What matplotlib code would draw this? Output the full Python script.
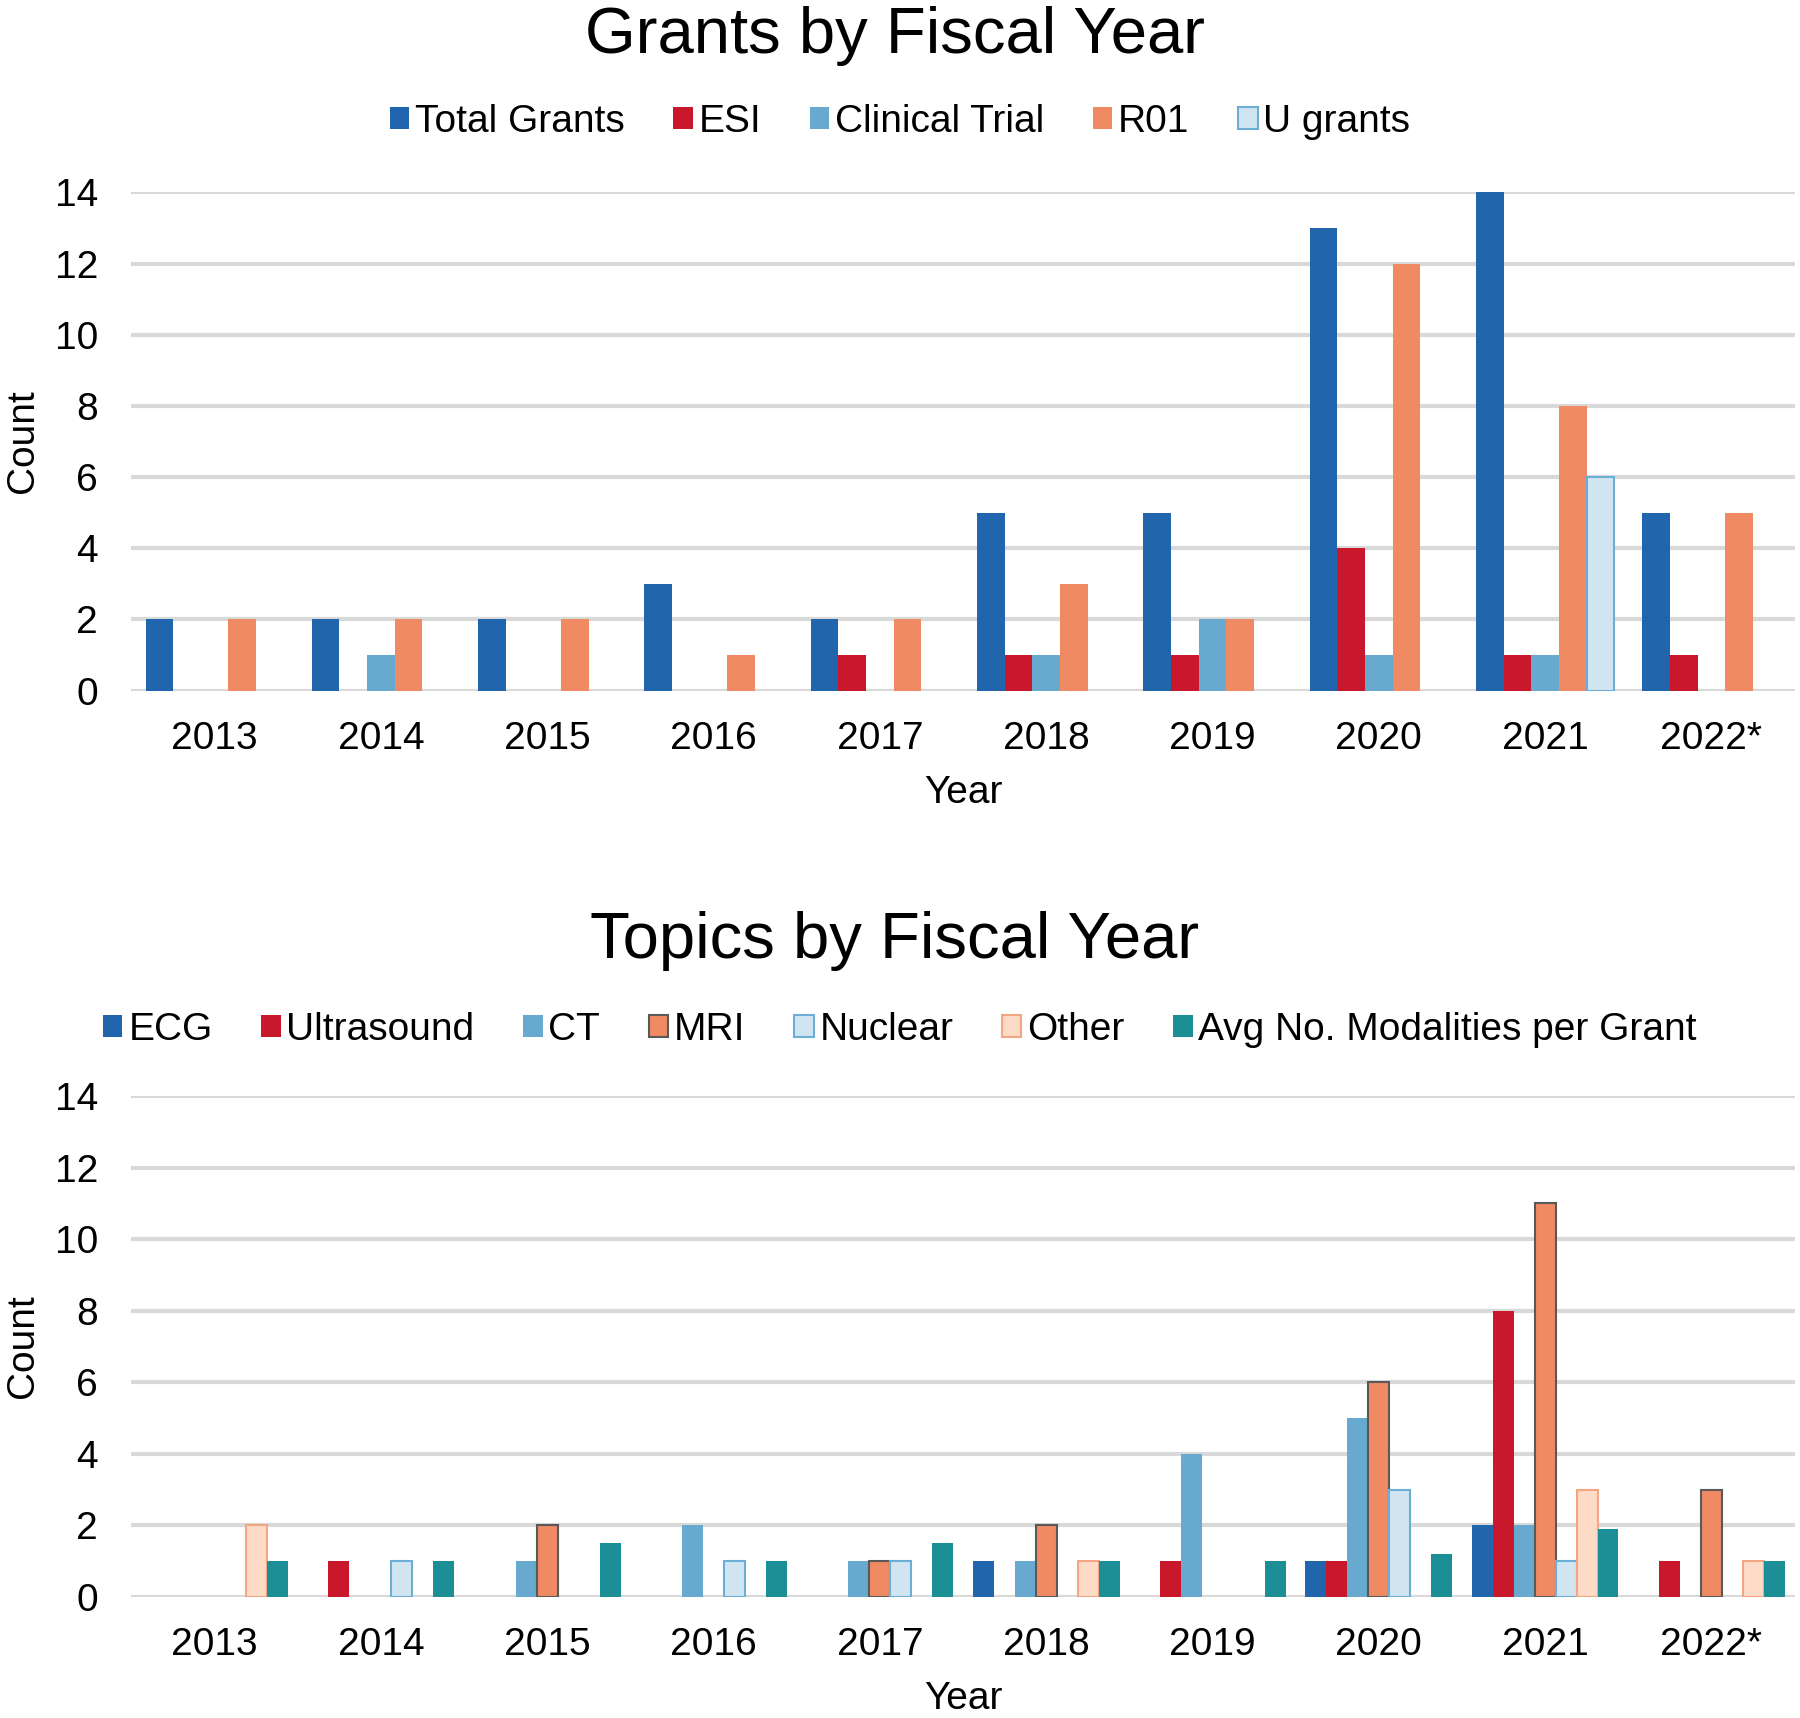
import numpy as np
import matplotlib
matplotlib.use('Agg')
import matplotlib.pyplot as plt

plt.rcParams['font.family'] = ['Liberation Sans', 'DejaVu Sans']

years = ['2013', '2014', '2015', '2016', '2017', '2018', '2019', '2020', '2021', '2022*']

# grants by fiscal year
total_grants = [2, 2, 2, 3, 2, 5, 5, 13, 14, 5]
esi = [0, 0, 0, 0, 1, 1, 1, 4, 1, 1]
clinical_trial = [0, 1, 0, 0, 0, 1, 2, 1, 1, 0]
r01 = [2, 2, 2, 1, 2, 3, 2, 12, 8, 5]
u_grants = [0, 0, 0, 0, 0, 0, 0, 0, 6, 0]

# topics by fiscal year
ecg = [0, 0, 0, 0, 0, 1, 0, 1, 2, 0]
ultrasound = [0, 1, 0, 0, 0, 0, 1, 1, 8, 1]
ct = [0, 0, 1, 2, 1, 1, 4, 5, 2, 0]
mri = [0, 0, 2, 0, 1, 2, 0, 6, 11, 3]
nuclear = [0, 1, 0, 1, 1, 0, 0, 3, 1, 0]
other = [2, 0, 0, 0, 0, 1, 0, 0, 3, 1]
avg_modalities = [1, 1, 1.5, 1, 1.5, 1, 1, 1.2, 1.9, 1]

BLUE = '#2166ac'
RED = '#c9182b'
MIDBLUE = '#67a9cf'
ORANGE = '#ef8a62'
PALEBLUE = '#d1e5f0'
PALEORANGE = '#fddbc7'
TEAL = '#1b8e96'

top_series = [
    ('Total Grants', total_grants, BLUE, None),
    ('ESI', esi, RED, None),
    ('Clinical Trial', clinical_trial, MIDBLUE, None),
    ('R01', r01, ORANGE, None),
    ('U grants', u_grants, PALEBLUE, '#6baed6'),
]
bottom_series = [
    ('ECG', ecg, BLUE, None),
    ('Ultrasound', ultrasound, RED, None),
    ('CT', ct, MIDBLUE, None),
    ('MRI', mri, ORANGE, '#595959'),
    ('Nuclear', nuclear, PALEBLUE, '#6baed6'),
    ('Other', other, PALEORANGE, '#f4a582'),
    ('Avg No. Modalities per Grant', avg_modalities, TEAL, None),
]

fig = plt.figure(figsize=(18, 17.18), dpi=100)
ax1 = fig.add_axes([0.073, 0.598, 0.924, 0.290])
ax2 = fig.add_axes([0.073, 0.0705, 0.924, 0.2915])

FS = 28


def draw(ax, series, width, title, title_y, legend_y):
    x = np.arange(len(years))
    n = len(series)
    for i, (name, vals, col, edge) in enumerate(series):
        off = (i - (n - 1) / 2) * width
        if edge is None:
            ax.bar(x + off, vals, width, color=col, label=name, zorder=3)
        else:
            # no outline on empty bars
            lw = [1.5 if v else 0 for v in vals]
            ax.bar(x + off, vals, width, color=col, edgecolor=edge,
                   linewidth=lw, label=name, zorder=3)
    ax.set_xlim(-0.5, len(years) - 0.5)
    ax.set_ylim(0, 14)
    ax.set_yticks(range(0, 15, 2))
    ax.set_xticks(x)
    ax.set_xticklabels(years)
    ax.tick_params(length=0, labelsize=FS, pad=22)
    ax.tick_params(axis='y', pad=24)
    ax.grid(axis='y', color='#d9d9d9', linewidth=3, zorder=0)
    for s in ax.spines.values():
        s.set_visible(False)
    ax.set_xlabel('Year', fontsize=FS, labelpad=13)
    ax.set_ylabel('Count', fontsize=FS, labelpad=10)
    fig.text(0.497, title_y, title, fontsize=47, ha='center', va='center')
    h, l = ax.get_legend_handles_labels()
    leg = fig.legend(h, l, loc='center',
                     bbox_to_anchor=(0.5, legend_y), ncol=n, frameon=False,
                     fontsize=FS, handlelength=0.5, handleheight=0.5,
                     handletextpad=0.15, columnspacing=1.25)
    # legend swatches keep their outline
    for p, (name, vals, col, edge) in zip(leg.get_patches(), series):
        if edge is not None:
            p.set_linewidth(1.5)


draw(ax1, top_series, 0.166, 'Grants by Fiscal Year', 0.979, 0.929)
draw(ax2, bottom_series, 0.126, 'Topics by Fiscal Year', 0.4525, 0.4005)

fig.savefig('out.png', dpi=100)
